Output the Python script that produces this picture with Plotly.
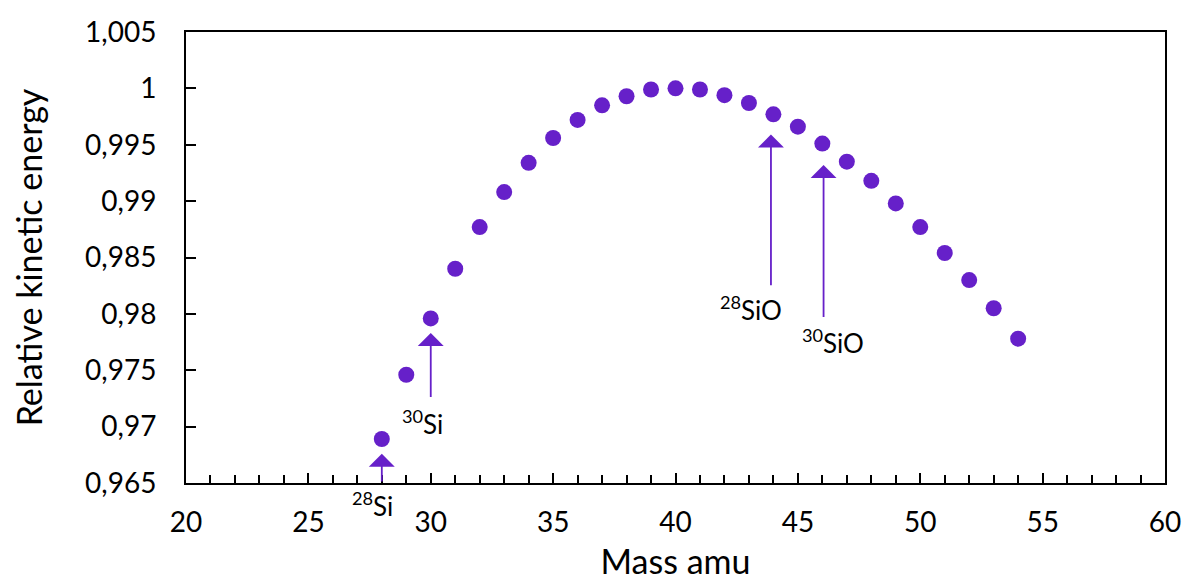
import plotly.graph_objects as go

# Data
mass = list(range(28, 55))
energy = [0.9689, 0.9746, 0.9796, 0.9840, 0.9877, 0.9908, 0.9934, 0.9956, 0.9972,
          0.9985, 0.9993, 0.9999, 1.0000, 0.9999, 0.9994, 0.9987, 0.9977, 0.9966,
          0.9951, 0.9935, 0.9918, 0.9898, 0.9877, 0.9854, 0.9830, 0.9805, 0.9778]

y_ticks = [0.965, 0.97, 0.975, 0.98, 0.985, 0.99, 0.995, 1.0, 1.005]
x_ticks = [20, 25, 30, 35, 40, 45, 50, 55, 60]

# Annotation arrows: label, x, tail y, head y, label x, label y
arrow_labels = ["<sup>28</sup>Si", "<sup>30</sup>Si", "<sup>28</sup>SiO", "<sup>30</sup>SiO"]
arrow_x = [28, 30, 43.9, 46.05]
arrow_tail = [0.965, 0.9725, 0.9824, 0.9796]
arrow_head = [0.9676, 0.9783, 0.9959, 0.9932]
label_x = [27.62, 29.67, 43.1, 46.45]
label_y = [0.965, 0.9704, 0.9805, 0.97755]

color = "#6620C9"
font = "Lato, Carlito, Calibri, sans-serif"

fig = go.Figure()
fig.add_trace(go.Scatter(x=mass, y=energy, mode="markers",
                         marker=dict(color=color, size=16), showlegend=False))

for i, (lab, x, t, h, lx, ly) in enumerate(zip(arrow_labels, arrow_x, arrow_tail, arrow_head, label_x, label_y)):
    fig.add_annotation(x=x, y=h, ax=x, ay=t, xref="x", yref="y", axref="x", ayref="y",
                       text="", showarrow=True, arrowhead=1, arrowsize=2.4,
                       arrowwidth=1.8, arrowcolor=color, standoff=0)
    if i == 0:
        fig.add_annotation(x=lx, y=ly, xref="x", yref="y", text=lab, showarrow=False,
                           yanchor="top", yshift=-2,
                           font=dict(size=26, color="black", family=font))
    else:
        fig.add_annotation(x=lx, y=ly, xref="x", yref="y", text=lab, showarrow=False,
                           font=dict(size=26, color="black", family=font))

# page body has an 8px margin; margins compensate for that offset
fig.update_layout(
    width=1194, height=586,
    margin=dict(l=178, r=37, t=24, b=111),
    paper_bgcolor="white", plot_bgcolor="white",
    separators=",.",
    font=dict(family=font, color="black"),
    xaxis=dict(range=[20, 60], tickvals=x_ticks, showgrid=False, zeroline=False,
               showline=True, linecolor="black", linewidth=2, mirror=True, automargin=False,
               ticks="inside", ticklen=10, tickwidth=2, tickcolor="black",
               minor=dict(ticks="inside", dtick=1, tick0=20, ticklen=8, tickwidth=1.5, tickcolor="black", showgrid=False),
               tickfont=dict(size=28), ticklabelstandoff=13, ticklabeloverflow="allow",
               title=dict(text="Mass amu", font=dict(size=34), standoff=14)),
    yaxis=dict(range=[0.965, 1.005], tickvals=y_ticks, showgrid=False, zeroline=False,
               showline=True, linecolor="black", linewidth=2, mirror=True, automargin=False,
               ticks="inside", ticklen=10, tickwidth=2, tickcolor="black",
               tickfont=dict(size=28), ticklabelstandoff=22, ticklabeloverflow="allow",
               title=dict(text="Relative kinetic energy", font=dict(size=34), standoff=45)),
)

fig.write_html("out.html")
